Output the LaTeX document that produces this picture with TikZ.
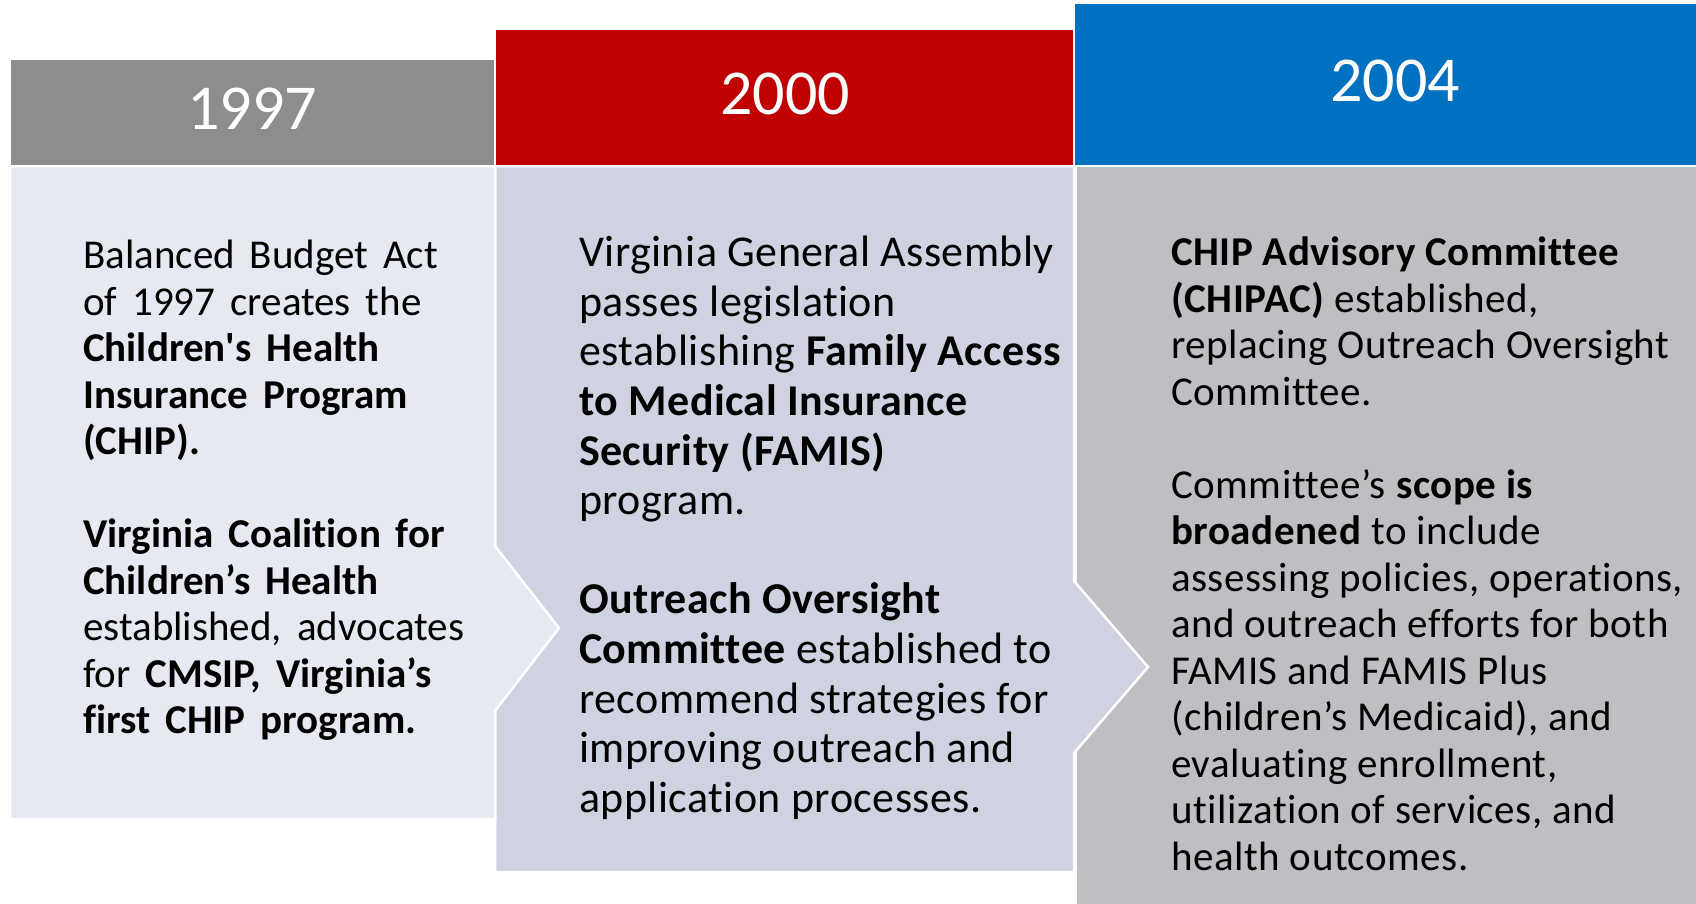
\documentclass[tikz,border=0pt]{standalone}
\usepackage{fontspec}
\setmainfont{Carlito}[Ligatures={TeX,NoCommon}]
\definecolor{hdrgray}{HTML}{8D8D8F}
\definecolor{hdrred}{HTML}{C00000}
\definecolor{hdrblue}{HTML}{0070C0}
\definecolor{bodyA}{HTML}{E6E9F2}
\definecolor{bodyB}{HTML}{CFD3E1}
\definecolor{bodyC}{HTML}{BFBEC3}
\newcommand{\widespaces}{\spaceskip=15pt plus 2pt minus 1pt\relax}
\tikzset{
  panel/.style={draw=white, line width=2.5pt, line join=miter},
  year/.style={text=white, font=\fontsize{64}{70}\selectfont, inner sep=0pt, anchor=center},
  bodytext/.style={anchor=north west, inner sep=0pt, align=left, text=black},
}
\begin{document}
\begin{tikzpicture}[x=1pt,y=-1pt]
\useasboundingbox (0,0) rectangle (1696,903);
% body panels, drawn back to front so each arrow tip overlaps the next panel
\path[panel, fill=bodyC] (1076,166) rectangle (1699,906);
\path[panel, fill=bodyB] (495,166) -- (1074,166) -- (1074,581) -- (1148,667)
  -- (1074,753) -- (1074,872) -- (495,872) -- cycle;
\path[panel, fill=bodyA] (10,166) -- (495,166) -- (495,546) -- (559,628)
  -- (495,711) -- (495,819) -- (10,819) -- cycle;
% year headers
\path[panel, fill=hdrblue] (1074,3) rectangle (1699,166);
\path[panel, fill=hdrred] (495,29) rectangle (1074,166);
\path[panel, fill=hdrgray] (10,59) rectangle (495,166);
\node[year] (y1997) at (252,109) {1997};
\node[year] (y2000) at (785,94) {2000};
\node[year] (y2004) at (1395,81) {2004};
% panel texts
\node[bodytext, font=\fontsize{41}{46.5}\selectfont\widespaces] (t1997) at (83,240) {%
Balanced Budget Act\\
of 1997 creates the\\
\textbf{Children\textquotesingle s Health}\\
\textbf{Insurance Program}\\
\textbf{(CHIP).}\\[46.5pt]
\textbf{Virginia Coalition for}\\
\textbf{Children’s Health}\\
established, advocates\\
for \textbf{CMSIP, Virginia’s}\\
\textbf{first CHIP program.}};
\node[bodytext, font=\fontsize{44}{49.6}\selectfont\addfontfeature{LetterSpace=1}] (t2000) at (579,236) {%
Virginia General Assembly\\
passes legislation\\
establishing \textbf{Family Access}\\
\textbf{to Medical Insurance}\\
\textbf{Security (FAMIS)}\\
program.\\[49.6pt]
\textbf{Outreach Oversight}\\
\textbf{Committee} established to\\
recommend strategies for\\
improving outreach and\\
application processes.};
\node[bodytext, font=\fontsize{41}{46.5}\selectfont\addfontfeature{LetterSpace=1.3}] (t2004) at (1171,237) {%
\textbf{CHIP Advisory Committee}\\
\textbf{(CHIPAC)} established,\\
replacing Outreach Oversight\\
Committee.\\[46.5pt]
Committee’s \textbf{scope is}\\
\textbf{broadened} to include\\
assessing policies, operations,\\
and outreach efforts for both\\
FAMIS and FAMIS Plus\\
(children’s Medicaid), and\\
evaluating enrollment,\\
utilization of services, and\\
health outcomes.};
\end{tikzpicture}
\end{document}
